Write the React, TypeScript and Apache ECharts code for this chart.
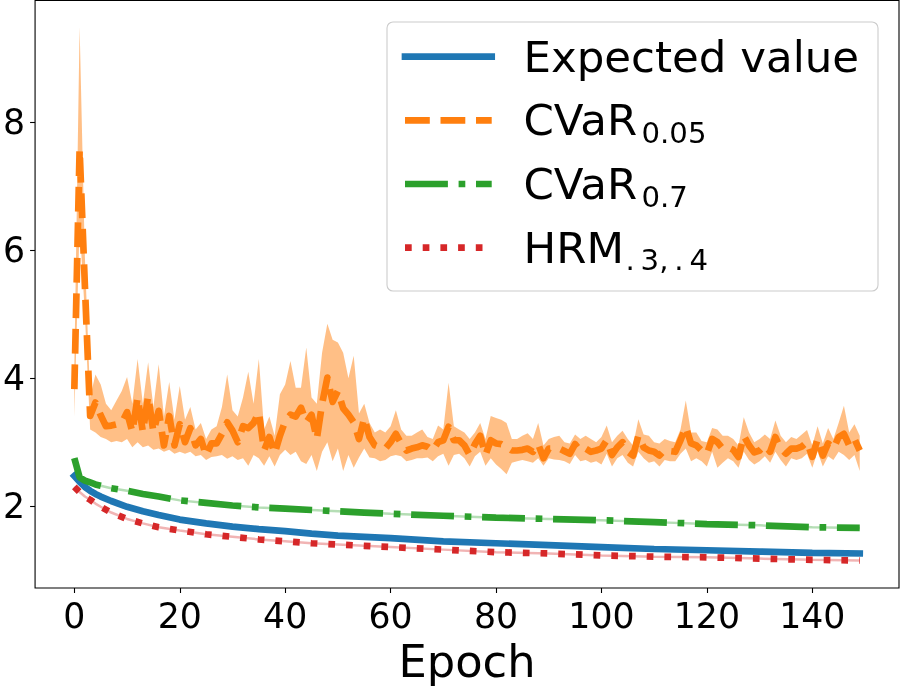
import React, { useEffect, useRef } from "react";
import * as echarts from "echarts";

// ---- data ----
const smoothEpochs = [0, 1, 2, 3, 4, 5, 7, 10, 13, 16, 20, 25, 30, 35, 40, 45, 50, 55, 60, 70, 80, 90, 100, 110, 120, 130, 140, 149];
const expectedValue = [2.47, 2.38, 2.30, 2.24, 2.19, 2.15, 2.08, 1.99, 1.92, 1.86, 1.79, 1.73, 1.68, 1.64, 1.61, 1.57, 1.54, 1.52, 1.50, 1.45, 1.42, 1.39, 1.36, 1.33, 1.31, 1.29, 1.27, 1.26];
const cvar07 = [2.75, 2.45, 2.40, 2.37, 2.34, 2.32, 2.28, 2.24, 2.19, 2.15, 2.09, 2.05, 2.01, 1.98, 1.96, 1.94, 1.92, 1.90, 1.88, 1.85, 1.82, 1.80, 1.78, 1.75, 1.72, 1.70, 1.67, 1.66];
const hrm = [2.30, 2.22, 2.15, 2.10, 2.04, 1.99, 1.90, 1.80, 1.73, 1.67, 1.62, 1.56, 1.52, 1.48, 1.45, 1.42, 1.40, 1.38, 1.36, 1.32, 1.28, 1.26, 1.23, 1.21, 1.20, 1.18, 1.16, 1.15];

// CVaR_0.05, one value per epoch 0..149
const cvar005 = [
  3.83, 7.58, 5.45, 3.41, 3.62, 3.42, 3.25, 3.26, 3.28, 3.30,
  3.47, 3.16, 3.70, 3.16, 3.72, 3.16, 3.49, 2.95, 3.41, 2.95,
  3.28, 3.00, 3.22, 2.95, 3.05, 2.79, 2.98, 2.98, 3.13, 3.31,
  3.18, 3.00, 3.25, 3.22, 3.30, 3.47, 2.87, 3.08, 2.82, 3.10,
  3.33, 3.43, 3.40, 3.54, 3.31, 3.43, 3.05, 3.60, 4.01, 3.63,
  3.80, 3.53, 3.43, 3.31, 3.05, 3.38, 3.08, 2.95, 2.92, 2.90,
  3.00, 3.13, 2.98, 2.87, 2.90, 2.92, 2.95, 2.93, 2.87, 3.00,
  3.03, 3.24, 3.03, 3.03, 2.95, 2.80, 2.97, 3.10, 2.80, 3.03,
  2.98, 2.97, 2.92, 2.87, 2.87, 2.88, 2.90, 2.85, 2.97, 2.75,
  2.90, 2.90, 2.90, 2.86, 2.82, 2.97, 2.87, 2.90, 2.85, 2.87,
  2.90, 3.03, 2.80, 2.92, 3.00, 2.85, 2.79, 3.10, 2.92, 2.87,
  2.85, 2.79, 2.88, 2.86, 2.85, 3.03, 3.24, 2.98, 2.95, 2.87,
  2.82, 3.05, 3.00, 2.90, 2.92, 2.88, 2.77, 3.10, 2.95, 2.84,
  2.87, 2.95, 2.85, 3.08, 2.90, 2.82, 2.90, 2.90, 2.93, 3.00,
  2.77, 3.05, 2.79, 2.98, 2.90, 3.08, 3.13, 2.95, 3.05, 2.87,
];
const cvar005Upper = [
  4.20, 9.49, 5.90, 3.70, 4.06, 3.90, 3.60, 3.50, 3.65, 3.80,
  4.02, 3.60, 4.30, 3.60, 4.25, 3.55, 4.22, 3.40, 3.94, 3.35,
  3.88, 3.35, 3.55, 3.20, 3.30, 3.05, 3.20, 3.25, 3.55, 4.06,
  3.50, 3.40, 3.70, 4.10, 3.60, 4.30, 3.20, 3.40, 3.10, 3.75,
  3.90, 4.27, 3.85, 3.85, 4.48, 3.70, 3.60, 4.40, 4.85, 4.60,
  4.56, 4.40, 4.00, 4.35, 3.45, 3.60, 3.30, 3.15, 3.20, 3.15,
  3.25, 3.50, 3.20, 3.10, 3.10, 3.15, 3.20, 3.08, 3.05, 3.26,
  3.20, 3.93, 3.25, 3.20, 3.15, 3.05, 3.15, 3.30, 3.05, 3.41,
  3.38, 3.35, 3.30, 3.05, 3.05, 3.10, 3.14, 3.05, 3.30, 2.95,
  3.05, 3.08, 3.10, 3.00, 2.98, 3.12, 3.05, 3.10, 3.05, 3.00,
  3.08, 3.26, 3.00, 3.10, 3.18, 3.05, 2.95, 3.36, 3.12, 3.10,
  3.00, 2.98, 3.05, 3.02, 3.00, 3.20, 3.65, 3.15, 3.15, 3.02,
  3.00, 3.22, 3.20, 3.10, 3.10, 3.05, 2.95, 3.39, 3.15, 3.00,
  3.05, 3.12, 3.05, 3.34, 3.10, 3.00, 3.08, 3.05, 3.12, 3.19,
  2.95, 3.25, 2.98, 3.22, 3.05, 3.30, 3.57, 3.15, 3.28, 3.10,
];
const cvar005Lower = [
  3.40, 6.40, 5.00, 3.20, 3.15, 3.08, 3.05, 3.00, 3.02, 3.00,
  3.05, 2.92, 3.00, 2.92, 2.95, 2.88, 2.90, 2.85, 2.88, 2.82,
  2.85, 2.82, 2.85, 2.78, 2.80, 2.72, 2.77, 2.78, 2.80, 2.74,
  2.78, 2.72, 2.75, 2.63, 2.80, 2.75, 2.63, 2.78, 2.62, 2.80,
  2.88, 2.80, 2.85, 2.70, 2.66, 2.80, 2.55, 2.85, 3.00, 2.70,
  2.90, 2.55, 2.80, 2.60, 2.76, 2.90, 2.76, 2.75, 2.70, 2.72,
  2.78, 2.80, 2.78, 2.70, 2.72, 2.75, 2.75, 2.76, 2.70, 2.78,
  2.82, 2.63, 2.80, 2.82, 2.75, 2.62, 2.78, 2.85, 2.63, 2.75,
  2.65, 2.58, 2.50, 2.68, 2.70, 2.72, 2.70, 2.68, 2.75, 2.63,
  2.75, 2.73, 2.72, 2.70, 2.66, 2.80, 2.70, 2.72, 2.68, 2.70,
  2.65, 2.82, 2.62, 2.75, 2.80, 2.68, 2.62, 2.85, 2.75, 2.68,
  2.70, 2.62, 2.72, 2.70, 2.70, 2.82, 2.90, 2.70, 2.75, 2.70,
  2.62, 2.85, 2.60, 2.68, 2.75, 2.70, 2.60, 2.85, 2.72, 2.65,
  2.70, 2.78, 2.68, 2.85, 2.72, 2.62, 2.75, 2.72, 2.75, 2.82,
  2.60, 2.85, 2.62, 2.78, 2.72, 2.85, 2.80, 2.72, 2.80, 2.55,
];

const xTicks = [0, 20, 40, 60, 80, 100, 120, 140];
const yTicks = [2, 4, 6, 8];
const xLabel = "Epoch";
const legendNames = ["Expected value", "CVaR", "CVaR", "HRM"];
const legendSubs = ["", "0.05", "0.7", ".\u20093,\u2009.\u20094"];

const BLUE = "#1f77b4";
const ORANGE = "#ff7f0e";
const GREEN = "#2ca02c";
const RED = "#d62728";
const FONT = "DejaVu Sans";
const LW = 6.7;

export default function App() {
  const ref = useRef<HTMLDivElement>(null);
  useEffect(() => {
    document.body.style.margin = "0";
    const chart = echarts.init(ref.current!, null, { renderer: "svg" });
    const pair = (xs: number[], ys: number[]) => xs.map((x, i) => [x, ys[i]]);
    const idx = (ys: number[]) => ys.map((y, i) => [i, y]);

    const legendColors = [BLUE, ORANGE, GREEN, RED];
    const legendDash: any[] = [null, [24.8, 10.7], [42.9, 10.7, 6.7, 10.7], [6.7, 11]];
    const rowsY = [56.7, 120.3, 184, 247.7];
    const subX = [0, 641.5, 641.5, 625.5];
    const legendEls: any[] = [
      {
        type: "rect",
        shape: { x: 387, y: 22, width: 491, height: 269, r: 6 },
        style: { fill: "rgba(255,255,255,0.8)", stroke: "#cccccc", lineWidth: 1.1 },
        z: 100,
      },
    ];
    rowsY.forEach((y, i) => {
      legendEls.push({
        type: "line",
        shape: { x1: 405, y1: y, x2: 491.7, y2: y },
        style: {
          stroke: legendColors[i],
          lineWidth: LW,
          lineDash: legendDash[i],
          lineCap: i === 0 ? "square" : "butt",
        },
        z: 101,
      });
      legendEls.push({
        type: "text",
        x: 523.5,
        y: y,
        style: { text: legendNames[i], font: `43.5px "${FONT}"`, fill: "#000", verticalAlign: "middle", align: "left" },
        z: 101,
      });
      if (legendSubs[i]) {
        legendEls.push({
          type: "text",
          x: subX[i],
          y: y + 12.7,
          style: { text: legendSubs[i], font: `29.2px "${FONT}"`, fill: "#000", verticalAlign: "middle", align: "left" },
          z: 101,
        });
      }
    });

    const faint = (data: any[], color: string) => ({
      type: "line",
      data,
      symbol: "none",
      silent: true,
      lineStyle: { color, width: 2.5, opacity: 0.35 },
      z: 2,
    });

    chart.setOption({
      animation: false,
      textStyle: { fontFamily: FONT },
      grid: {
        left: 35,
        right: 1,
        top: 0.5,
        bottom: 99.7,
        show: true,
        borderColor: "#000",
        borderWidth: 1.1,
        backgroundColor: "transparent",
      },
      xAxis: {
        type: "value",
        min: -7.45,
        max: 156.45,
        name: xLabel,
        nameLocation: "middle",
        nameGap: 51,
        nameTextStyle: { fontSize: 44.8, color: "#000", fontFamily: FONT },
        axisLine: { show: false, onZero: false },
        splitLine: { show: false },
        axisTick: { show: true, length: 5, customValues: xTicks, lineStyle: { color: "#000", width: 1.1 } },
        axisLabel: { customValues: xTicks, fontSize: 34.7, color: "#000", margin: 10, fontFamily: FONT },
      },
      yAxis: {
        type: "value",
        min: 0.72,
        max: 9.906,
        axisLine: { show: false, onZero: false },
        splitLine: { show: false },
        axisTick: { show: true, length: 5, customValues: yTicks, lineStyle: { color: "#000", width: 1.1 } },
        axisLabel: { customValues: yTicks, fontSize: 34.7, color: "#000", margin: 10, fontFamily: FONT },
      },
      series: [
        faint(pair(smoothEpochs, expectedValue), BLUE),
        {
          name: "Expected value",
          type: "line",
          data: pair(smoothEpochs, expectedValue),
          symbol: "none",
          lineStyle: { color: BLUE, width: LW, cap: "square" },
          z: 3,
        },
        {
          type: "custom",
          silent: true,
          clip: true,
          data: [[0, cvar005[0]]],
          encode: { x: 0, y: 1 },
          renderItem: (_params: any, api: any) => {
            const pts: number[][] = [];
            for (let i = 0; i < cvar005Upper.length; i++) pts.push(api.coord([i, cvar005Upper[i]]));
            for (let i = cvar005Lower.length - 1; i >= 0; i--) pts.push(api.coord([i, cvar005Lower[i]]));
            return { type: "polygon", shape: { points: pts }, style: { fill: "rgba(255,127,14,0.5)" } };
          },
          z: 4,
        },
        {
          name: "CVaR0.05",
          type: "line",
          data: idx(cvar005),
          symbol: "none",
          lineStyle: { color: ORANGE, width: LW, type: [24.8, 10.7], cap: "butt", join: "round" },
          z: 5,
        },
        faint(pair(smoothEpochs, cvar07), GREEN),
        {
          name: "CVaR0.7",
          type: "line",
          data: pair(smoothEpochs, cvar07),
          symbol: "none",
          lineStyle: { color: GREEN, width: LW, type: [42.9, 10.7, 6.7, 10.7], cap: "butt" },
          z: 6,
        },
        faint(pair(smoothEpochs, hrm), RED),
        {
          name: "HRM",
          type: "line",
          data: pair(smoothEpochs, hrm),
          symbol: "none",
          lineStyle: { color: RED, width: LW, type: [6.7, 11], cap: "butt" },
          z: 7,
        },
      ],
      graphic: legendEls,
    });
    return () => chart.dispose();
  }, []);
  return <div ref={ref} style={{ position: "fixed", left: 0, top: 0, width: 900, height: 689 }} />;
}
